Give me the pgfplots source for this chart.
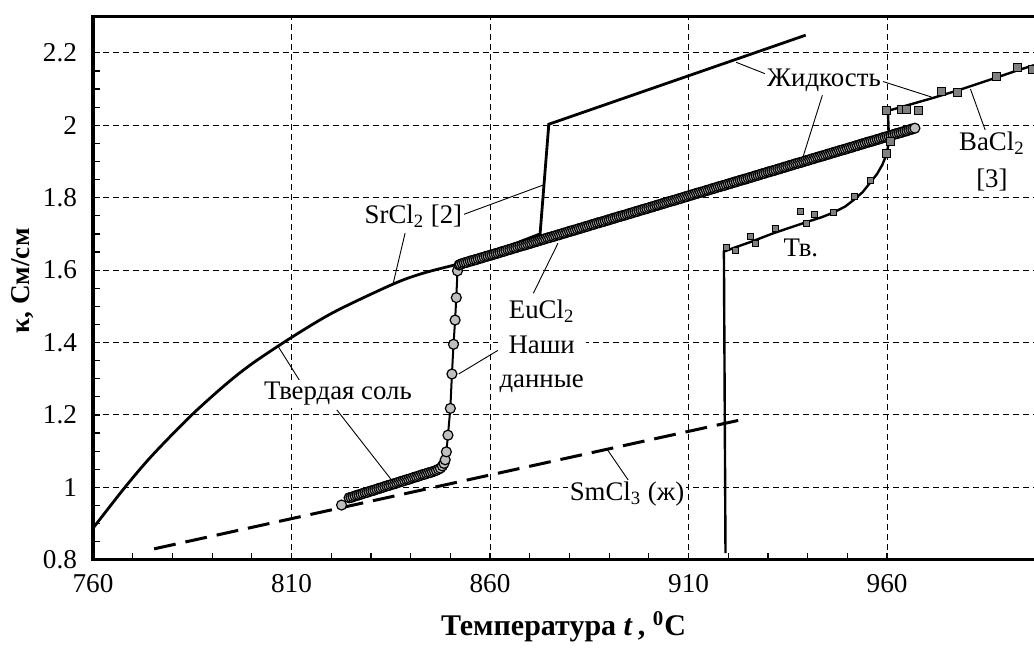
\documentclass[border=0pt]{standalone}
\usepackage{fontspec}
\setmainfont{Liberation Serif}
\usepackage{pgfplots}
\pgfplotsset{compat=1.18}

\tikzset{lab/.style={fill=white, inner sep=1pt, align=center,
  font=\fontsize{13.4}{16.8}\selectfont}}

\begin{document}
\begin{tikzpicture}
\begin{axis}[
  scale only axis,
  width=470.5pt, height=271.5pt,
  xmin=760, xmax=997, ymin=0.8, ymax=2.3,
  xtick={760,810,860,910,960},
  ytick={0.8,1,1.2,1.4,1.6,1.8,2,2.2},
  minor x tick num=4, minor y tick num=3,
  tick align=inside, tick pos=left,
  major tick length=3.5pt, minor tick length=3.5pt,
  tick style={black, line width=0.6pt},
  grid=major,
  major grid style={black, line width=0.45pt, dash pattern=on 3pt off 2pt},
  axis line style={draw=none},
  /pgf/number format/assume math mode=true,
  ticklabel style={font=\fontsize{13.6}{16}\selectfont},
  xticklabel style={yshift=-4pt},
  yticklabel style={xshift=-4.5pt},
]
% corners and label anchors of the plotting area
\coordinate (SW) at (rel axis cs:0,0);
\coordinate (SE) at (rel axis cs:1,0);
\coordinate (NW) at (rel axis cs:0,1);
\coordinate (NE) at (rel axis cs:1,1);
\coordinate (YL) at (axis cs:760,1.57);
\coordinate (XL) at (rel axis cs:0.5,0);

% SmCl3 (liquid)
\addplot[black, line width=1.5pt, dash pattern=on 11pt off 5pt] coordinates {
  (775.4,0.830) (924.7,1.190)};

% SrCl2 [2]: solid salt
\addplot[black, line width=1.4pt, smooth] coordinates {
  (760,0.887) (768.2,1.002) (774.9,1.088) (784.5,1.196) (793.3,1.283)
  (800,1.341) (810,1.414) (820.7,1.484) (835.5,1.561) (843,1.591)
  (851.8,1.616)};
% SrCl2 [2]: melting jump and liquid
\addplot[black, line width=1.4pt] coordinates {
  (851.8,1.616) (862,1.655) (872.6,1.700) (874.8,2.003) (939.5,2.249)};

% EuCl2, own data
\addplot[black, line width=1pt, mark=*, mark size=2.5pt,
  mark options={fill=black!25, draw=black, line width=0.6pt, solid}] table {
822.6 0.951
824.5 0.971
825.0 0.972
825.5 0.974
826.0 0.976
826.5 0.978
827.0 0.979
827.5 0.981
828.0 0.983
828.5 0.985
829.0 0.986
829.5 0.988
830.0 0.990
830.5 0.991
831.0 0.993
831.5 0.995
832.0 0.997
832.5 0.998
833.0 1.000
833.5 1.002
834.0 1.004
834.5 1.005
835.0 1.007
835.5 1.009
836.0 1.010
836.5 1.012
837.0 1.014
837.5 1.016
838.0 1.017
838.5 1.019
839.0 1.021
839.5 1.022
840.0 1.024
840.5 1.026
841.0 1.028
841.5 1.029
842.0 1.031
842.5 1.033
843.0 1.035
843.5 1.036
844.0 1.038
844.5 1.040
845.0 1.041
845.5 1.043
846.0 1.045
846.5 1.047
847.0 1.050
847.5 1.053
848.0 1.059
848.4 1.066
848.7 1.076
849.0 1.098
849.4 1.144
850.0 1.218
850.4 1.313
850.8 1.395
851.2 1.462
851.5 1.524
851.8 1.598
852.2 1.614
852.5 1.616
853.0 1.618
853.5 1.620
854.0 1.621
854.5 1.623
855.0 1.625
855.5 1.626
856.0 1.628
856.5 1.629
857.0 1.631
857.5 1.633
858.0 1.634
858.5 1.636
859.0 1.638
859.5 1.639
860.0 1.641
860.5 1.642
861.0 1.644
861.5 1.646
862.0 1.647
862.5 1.649
863.0 1.651
863.5 1.652
864.0 1.654
864.5 1.656
865.0 1.657
865.5 1.659
866.0 1.661
866.5 1.662
867.0 1.664
867.5 1.666
868.0 1.667
868.5 1.669
869.0 1.670
869.5 1.672
870.0 1.674
870.5 1.675
871.0 1.677
871.5 1.679
872.0 1.680
872.5 1.682
873.0 1.684
873.5 1.685
874.0 1.687
874.5 1.689
875.0 1.690
875.5 1.692
876.0 1.693
876.5 1.695
877.0 1.697
877.5 1.698
878.0 1.700
878.5 1.702
879.0 1.703
879.5 1.705
880.0 1.707
880.5 1.708
881.0 1.710
881.5 1.711
882.0 1.713
882.5 1.715
883.0 1.716
883.5 1.718
884.0 1.720
884.5 1.721
885.0 1.723
885.5 1.725
886.0 1.726
886.5 1.728
887.0 1.730
887.5 1.731
888.0 1.733
888.5 1.734
889.0 1.736
889.5 1.738
890.0 1.739
890.5 1.741
891.0 1.743
891.5 1.744
892.0 1.746
892.5 1.748
893.0 1.749
893.5 1.751
894.0 1.752
894.5 1.754
895.0 1.756
895.5 1.757
896.0 1.759
896.5 1.761
897.0 1.762
897.5 1.764
898.0 1.766
898.5 1.767
899.0 1.769
899.5 1.770
900.0 1.772
900.5 1.774
901.0 1.775
901.5 1.777
902.0 1.779
902.5 1.780
903.0 1.782
903.5 1.784
904.0 1.785
904.5 1.787
905.0 1.789
905.5 1.790
906.0 1.792
906.5 1.793
907.0 1.795
907.5 1.797
908.0 1.798
908.5 1.800
909.0 1.802
909.5 1.803
910.0 1.805
910.5 1.807
911.0 1.808
911.5 1.810
912.0 1.812
912.5 1.813
913.0 1.815
913.5 1.816
914.0 1.818
914.5 1.820
915.0 1.821
915.5 1.823
916.0 1.825
916.5 1.826
917.0 1.828
917.5 1.830
918.0 1.831
918.5 1.833
919.0 1.834
919.5 1.836
920.0 1.838
920.5 1.839
921.0 1.841
921.5 1.843
922.0 1.844
922.5 1.846
923.0 1.848
923.5 1.849
924.0 1.851
924.5 1.852
925.0 1.854
925.5 1.856
926.0 1.857
926.5 1.859
927.0 1.861
927.5 1.862
928.0 1.864
928.5 1.866
929.0 1.867
929.5 1.869
930.0 1.871
930.5 1.872
931.0 1.874
931.5 1.875
932.0 1.877
932.5 1.879
933.0 1.880
933.5 1.882
934.0 1.884
934.5 1.885
935.0 1.887
935.5 1.889
936.0 1.890
936.5 1.892
937.0 1.894
937.5 1.895
938.0 1.897
938.5 1.898
939.0 1.900
939.5 1.902
940.0 1.903
940.5 1.905
941.0 1.907
941.5 1.908
942.0 1.910
942.5 1.912
943.0 1.913
943.5 1.915
944.0 1.916
944.5 1.918
945.0 1.920
945.5 1.921
946.0 1.923
946.5 1.925
947.0 1.926
947.5 1.928
948.0 1.930
948.5 1.931
949.0 1.933
949.5 1.934
950.0 1.936
950.5 1.938
951.0 1.939
951.5 1.941
952.0 1.943
952.5 1.944
953.0 1.946
953.5 1.948
954.0 1.949
954.5 1.951
955.0 1.953
955.5 1.954
956.0 1.956
956.5 1.957
957.0 1.959
957.5 1.961
958.0 1.962
958.5 1.964
959.0 1.966
959.5 1.967
960.0 1.969
960.5 1.970
961.0 1.972
961.5 1.974
962.0 1.976
962.5 1.977
963.0 1.979
963.5 1.980
964.0 1.982
964.5 1.984
965.0 1.985
965.5 1.987
966.0 1.989
966.5 1.990
967.0 1.992
};

% BaCl2 [3]: fitted curve
\addplot[black, line width=1.2pt] coordinates {
  (919.3,0.818) (918.9,1.651) (921.8,1.663) (925.7,1.678) (931.4,1.702)
  (936,1.719) (939.8,1.733) (943.5,1.746) (946.5,1.759) (949.5,1.776)
  (951.5,1.793) (953.8,1.815) (955.7,1.841) (957.5,1.866) (958.8,1.891)
  (959.8,1.918) (960.5,1.955) (960.2,2.040) (971.7,2.076) (977.7,2.096)
  (987.6,2.132) (992.9,2.152) (997,2.166)};
% BaCl2 [3]: solid salt points
\addplot[only marks, mark=square*, mark size=1.5pt,
  mark options={fill=black!50, draw=black, line width=0.45pt}] coordinates {
  (919.6,1.662) (921.8,1.655) (925.7,1.694) (926.8,1.674) (931.8,1.714)
  (938.3,1.763) (939.6,1.730) (941.6,1.754) (946.5,1.760) (951.8,1.803)
  (955.8,1.848)};
% BaCl2 [3]: melt points
\addplot[only marks, mark=square*, mark size=2pt,
  mark options={fill=black!50, draw=black, line width=0.5pt}] coordinates {
  (959.9,1.923) (960.8,1.955) (959.9,2.040) (963.7,2.045) (965.0,2.044)
  (967.9,2.041) (973.8,2.093) (977.7,2.091) (987.6,2.136) (992.9,2.159)
  (996.7,2.155)};

% leader lines
\draw[black, line width=0.45pt]
  (axis cs:931.0,2.135) -- (axis cs:922.0,2.174)
  (axis cs:943.7,2.083) -- (axis cs:938.8,1.912)
  (axis cs:958.1,2.124) -- (axis cs:971.2,2.078)
  (axis cs:984.7,1.987) -- (axis cs:981.0,2.100)
  (axis cs:870.9,1.536) -- (axis cs:877.1,1.674)
  (axis cs:862.1,1.379) -- (axis cs:852.1,1.313)
  (axis cs:813.0,1.278) -- (axis cs:806.7,1.388)
  (axis cs:821.4,1.214) -- (axis cs:835.2,1.020)
  (axis cs:852.9,1.752) -- (axis cs:873.4,1.835)
  (axis cs:838.6,1.702) -- (axis cs:835.6,1.563)
  (axis cs:894.8,1.020) -- (axis cs:889.3,1.108);

% labels
\node[lab] at (axis cs:944.1,2.125) {Жидкость};
\node[lab, font=\fontsize{13.4}{18.5}\selectfont]
  at (axis cs:986.4,1.900) {BaCl\textsubscript{2}\\{[3]}};
\node[lab] at (axis cs:873.0,1.487) {EuCl\textsubscript{2}};
\node[lab] at (axis cs:873.0,1.339) {Наши\\данные};
\node[lab] at (axis cs:821.7,1.258) {Твердая соль};
\node[lab] at (axis cs:840.7,1.749) {SrCl\textsubscript{2} [2]};
\node[lab] at (axis cs:938.3,1.660) {Тв.};
\node[lab] at (axis cs:894.5,0.982) {SmCl\textsubscript{3} (ж)};
\end{axis}

% frame: top, left and bottom sides
\draw[black, line width=1.7pt, line join=miter] (NE) -- (NW) -- (SW) -- (SE);

% axis titles
\node[rotate=90, font=\bfseries\fontsize{13.6}{16}\selectfont]
  at ([xshift=-35.25pt]YL) {κ, См/см};
\node[font=\bfseries\fontsize{15}{18}\selectfont]
  at ([yshift=-33.5pt]XL) {Температура \textit{t}\,, \textsuperscript{0}C};

\pgfresetboundingbox
\path[use as bounding box] ([xshift=-46.5pt,yshift=-44.5pt]SW) rectangle ([yshift=8.35pt]NE);
\end{tikzpicture}
\end{document}
